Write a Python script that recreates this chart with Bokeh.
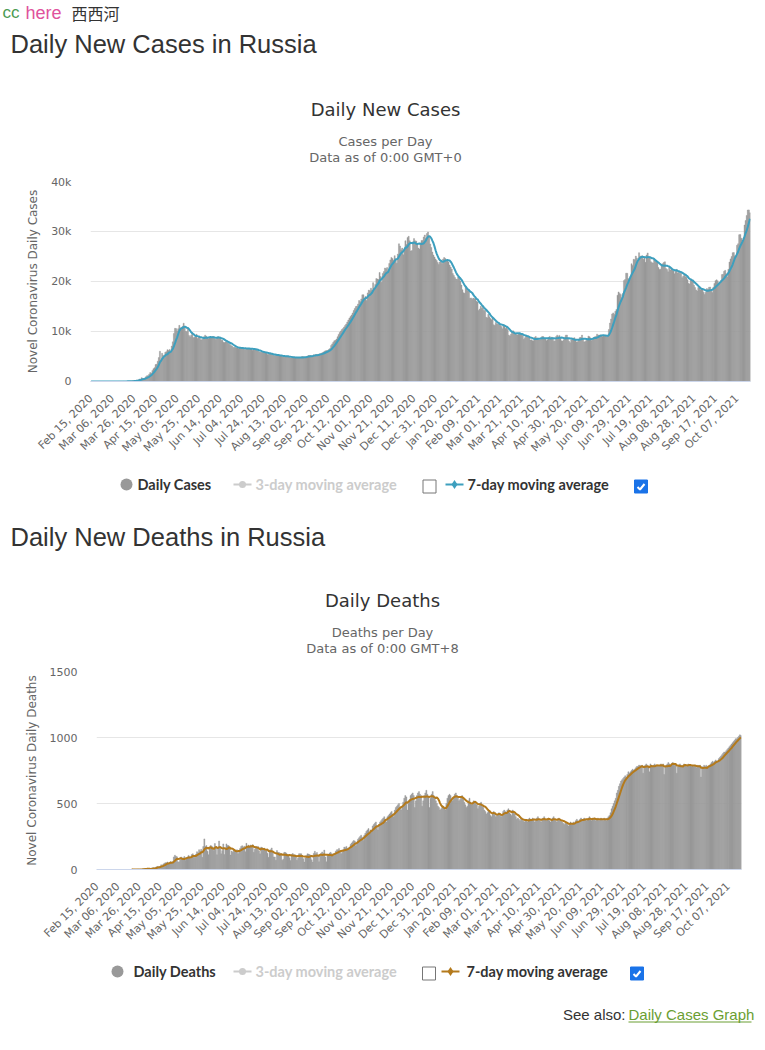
import math
import pandas as pd
from bokeh.plotting import figure
from bokeh.models import Range1d, FixedTicker, ColumnDataSource
from bokeh.core.properties import value
from bokeh.embed import file_html
from bokeh.resources import INLINE

# ---------------- data (daily values, Feb 15 2020 .. Oct 19 2021) ----------------
START_DATE = "2020-02-15"

cases_2020_02 = [0, 0, 0, 0, 0, 0, 0, 0, 0, 0, 0, 0, 0, 0, 0]
cases_2020_03 = [0, 1, 0, 0, 1, 6, 0, 3, 3, 3, 8, 6, 17, 14, 4, 30, 21, 33, 52, 54,
                 53, 61, 71, 57, 163, 182, 196, 228, 270, 302, 500]
cases_2020_04 = [440, 771, 601, 582, 658, 954, 1154, 1175, 1459, 1786, 1667, 2186, 2558, 2774, 3388,
                 3448, 4070, 4785, 6060, 4268, 5642, 5236, 4774, 5849, 5966, 6361, 6198, 6411, 5841, 7099]
cases_2020_05 = [7933, 9623, 10633, 10581, 10102, 10559, 11231, 10699, 10817, 11012, 11656, 10899, 10028,
                 9974, 10598, 9200, 8926, 9263, 9709, 8764, 8849, 8894, 9434, 8599, 8946, 8915, 8338, 8371,
                 8572, 8952, 9268]
cases_2020_06 = [9035, 8863, 8536, 8831, 8726, 8855, 8984, 8985, 8595, 8404, 8779, 8987, 8706, 8835, 8246,
                 8248, 7843, 7790, 7972, 7889, 7728, 7600, 7425, 7176, 7113, 6800, 6852, 6791, 6719, 6693]
cases_2020_07 = [6556, 6760, 6718, 6632, 6736, 6611, 6368, 6562, 6509, 6635, 6611, 6615, 6537, 6248, 6422,
                 6428, 6406, 6234, 6109, 5940, 5842, 5862, 5811, 5848, 5871, 5765, 5635, 5395, 5475, 5509, 5482]
cases_2020_08 = [5462, 5427, 5159, 5204, 5267, 5241, 5212, 5189, 5118, 5102, 4945, 5041, 5057, 5065, 5061,
                 4969, 4839, 4718, 4748, 4767, 4870, 4921, 4852, 4852, 4676, 4696, 4711, 4829, 4980, 4993, 4897]
cases_2020_09 = [4729, 4952, 5110, 5185, 5205, 5195, 5099, 5063, 5363, 5310, 5405, 5406, 5449, 5509, 5529,
                 5670, 5762, 5905, 6065, 6148, 6196, 6215, 6431, 6595, 7212, 7523, 7867, 8135, 8232, 8481]
cases_2020_10 = [8945, 9412, 9800, 10100, 10400, 10600, 10900, 11200, 11500, 11900, 12300, 12700, 13000,
                 13300, 13700, 14200, 14600, 15000, 15099, 15500, 16202, 15971, 16521, 17340, 17347, 16550,
                 17025, 16202, 17717, 18283, 18140]
cases_2020_11 = [18665, 18257, 19768, 18648, 19404, 20582, 20498, 20396, 21798, 20977, 19851, 21608, 21983,
                 22702, 22572, 22778, 21983, 23610, 24318, 24822, 24581, 24236, 25173, 24326, 23675, 25487,
                 27543, 27100, 26338, 26683]
cases_2020_12 = [25345, 26402, 28145, 27403, 28782, 29039, 28137, 26097, 26190, 27927, 28585, 28137, 28080,
                 27328, 26689, 26509, 27656, 28214, 28209, 28900, 29300, 28600, 29600, 29900, 28900, 27500,
                 26800, 25900, 25300, 24900, 24500]
cases_2021_01 = [24200, 23800, 23400, 23900, 24300, 23600, 24500, 24800, 24600, 24200, 24100, 23900, 23300,
                 22900, 22500, 21600, 21200, 20800, 20500, 20400, 20900, 20600, 20100, 19290, 18359, 17741,
                 17648, 19032, 18662, 18135, 18359]
cases_2021_02 = [16643, 16714, 16474, 16688, 16552, 16627, 16048, 15916, 14207, 14494, 15038, 14657, 15051,
                 14185, 14207, 12828, 12742, 13433, 12953, 12604, 12370, 12742, 11359, 11198, 11823, 11534,
                 11449, 11534]
cases_2021_03 = [11404, 11022, 10565, 11385, 11024, 10595, 10869, 10407, 9285, 9079, 9437, 9851, 10146, 9908,
                 9633, 9393, 9299, 9474, 9669, 9445, 9632, 9215, 8457, 8769, 9128, 9073, 9088, 8711, 8277,
                 8328, 8162]
cases_2021_04 = [8173, 8807, 9016, 8712, 8646, 8294, 8328, 8634, 9014, 8996, 8702, 8589, 8173, 8328, 8807,
                 9016, 8712, 8885, 8632, 8053, 8173, 8996, 9270, 8951, 9224, 8697, 8137, 8099, 8372, 8848]
cases_2021_05 = [9270, 9284, 8697, 8068, 7770, 8328, 8419, 8697, 8747, 8419, 7920, 7974, 8380, 8790, 8828,
                 9282, 8554, 7920, 8019, 8217, 8407, 9075, 8951, 8715, 8195, 8373, 8780, 8947, 9022, 9473, 9268]
cases_2021_06 = [9289, 9301, 9252, 9022, 9180, 9268, 9088, 8947, 9145, 10407, 11699, 12505, 13510, 13721,
                 13397, 14057, 14423, 17262, 17906, 17611, 17378, 16715, 17594, 20182, 20393, 21665, 21650,
                 20538, 20616, 21042]
cases_2021_07 = [23543, 23218, 24439, 24353, 25082, 24702, 23962, 25766, 25082, 25033, 25142, 24439, 24702,
                 23827, 25293, 25704, 25018, 24933, 23962, 23770, 23704, 24471, 24072, 23947, 23811, 22804,
                 22420, 22470, 23270, 23564, 23807]
cases_2021_08 = [23947, 22589, 22420, 21932, 22804, 22277, 22660, 22250, 22124, 21558, 22071, 22432, 21700,
                 22124, 21590, 21792, 20765, 21058, 21316, 20992, 20867, 20368, 19630, 19509, 20393, 20210,
                 20316, 19270, 18780, 18325, 18103]
cases_2021_09 = [18780, 18985, 18341, 18645, 18325, 17856, 17425, 17837, 18591, 18380, 18841, 18891, 18178,
                 17813, 18841, 19594, 20174, 20329, 20130, 19706, 19594, 20174, 21379, 21438, 22041, 22236,
                 21559, 20951, 22430, 23888]
cases_2021_10 = [24522, 25003, 25769, 25781, 25133, 25110, 27246, 27550, 29362, 29409, 28647, 28190, 28717,
                 31299, 32196, 33208, 34303, 34325, 33740]

N_ = None
deaths_2020_02 = [N_, N_, N_, N_, N_, N_, N_, N_, N_, N_, N_, N_, N_, N_, N_]
deaths_2020_03 = [N_, N_, N_, N_, N_, N_, N_, N_, N_, N_, N_, N_, N_, N_, N_, N_, N_, N_,
                  1, 0, 0, 0, 0, 0, 2, 0, 1, 3, 2, 4, 8]
deaths_2020_04 = [7, 2, 9, 2, 2, 2, 11, 13, 13, 12, 18, 22, 24, 18, 24, 36, 28, 41, 48, 51,
                  52, 57, 42, 50, 60, 47, 58, 95, 108, 101]
deaths_2020_05 = [96, 57, 58, 76, 95, 86, 88, 98, 70, 88, 94, 107, 96, 93, 113, 119, 94, 91, 115, 135,
                  127, 150, 139, 153, 92, 174, 232, 174, 181, 138, 112]
deaths_2020_06 = [162, 182, 178, 169, 144, 197, 171, 112, 171, 216, 174, 119, 143, 194, 113, 153, 194, 181,
                  181, 161, 109, 140, 130, 150, 145, 140, 150, 120, 140, 160]
deaths_2020_07 = [175, 180, 168, 176, 135, 198, 173, 185, 174, 186, 168, 188, 130, 154, 175, 161, 175, 141,
                  119, 170, 165, 150, 162, 141, 147, 123, 92, 147, 150, 163, 138]
deaths_2020_08 = [95, 95, 70, 144, 129, 129, 124, 119, 70, 77, 130, 129, 123, 113, 109, 89, 68, 114, 121,
                  112, 111, 100, 70, 86, 120, 119, 120, 100, 82, 56, 88]
deaths_2020_09 = [106, 119, 117, 113, 108, 73, 56, 122, 138, 120, 129, 107, 59, 102, 124, 133, 122, 147, 94,
                  58, 107, 110, 125, 130, 120, 115, 105, 120, 140, 150]
deaths_2020_10 = [150, 160, 140, 120, 130, 150, 170, 165, 175, 160, 150, 170, 190, 200, 210, 220, 215, 180,
                  200, 230, 240, 250, 260, 245, 220, 260, 275, 290, 300, 310, 280]
deaths_2020_11 = [300, 290, 330, 340, 350, 360, 330, 300, 340, 360, 370, 380, 390, 400, 380, 360, 400, 410,
                  420, 430, 440, 420, 400, 450, 470, 480, 490, 500, 470, 450]
deaths_2020_12 = [480, 510, 540, 560, 550, 450, 500, 530, 560, 570, 580, 560, 470, 520, 560, 580, 590, 570,
                  560, 480, 520, 560, 580, 600, 570, 550, 470, 540, 570, 590, 560]
deaths_2021_01 = [540, 520, 500, 480, 470, 450, 460, 470, 480, 460, 450, 500, 540, 560, 570, 560, 530, 520,
                  550, 570, 580, 560, 540, 520, 530, 550, 560, 540, 510, 490, 470]
deaths_2021_02 = [480, 520, 540, 510, 490, 500, 520, 510, 500, 490, 460, 480, 500, 510, 480, 470, 450, 440,
                  420, 430, 450, 440, 410, 400, 430, 440, 420, 400]
deaths_2021_03 = [410, 420, 430, 420, 400, 410, 440, 450, 440, 430, 450, 460, 430, 420, 410, 450, 440, 420,
                  400, 380, 390, 380, 370, 390, 380, 370, 360, 380, 370, 360, 380]
deaths_2021_04 = [390, 380, 370, 390, 380, 360, 370, 390, 400, 380, 370, 360, 380, 390, 400, 380, 370, 380,
                  390, 370, 360, 380, 390, 400, 380, 370, 360, 380, 390, 370]
deaths_2021_05 = [370, 360, 350, 340, 350, 360, 340, 330, 350, 360, 340, 350, 360, 350, 370, 380, 370, 360,
                  380, 390, 370, 380, 390, 380, 370, 380, 390, 400, 380, 370, 390]
deaths_2021_06 = [380, 390, 370, 380, 390, 370, 380, 390, 380, 370, 390, 380, 370, 390, 400, 410, 430, 460,
                  480, 500, 520, 540, 580, 600, 630, 650, 670, 680, 690, 700]
deaths_2021_07 = [710, 700, 720, 740, 730, 740, 750, 760, 750, 760, 770, 780, 780, 790, 790, 780, 790, 730,
                  780, 790, 800, 790, 780, 740, 800, 790, 780, 790, 800, 790, 780]
deaths_2021_08 = [790, 780, 790, 800, 790, 800, 720, 780, 790, 800, 810, 800, 790, 800, 810, 800, 790, 800,
                  730, 780, 790, 800, 790, 780, 790, 800, 790, 780, 790, 800, 790]
deaths_2021_09 = [790, 780, 790, 780, 790, 780, 770, 790, 780, 790, 700, 780, 770, 790, 780, 790, 770, 780,
                  790, 800, 810, 820, 810, 820, 830, 820, 820, 840, 850, 860]
deaths_2021_10 = [870, 880, 890, 890, 900, 910, 920, 930, 940, 950, 960, 970, 980, 990, 990, 1000, 1010,
                  1020, 1015]

case_months = [cases_2020_02, cases_2020_03, cases_2020_04, cases_2020_05, cases_2020_06, cases_2020_07,
               cases_2020_08, cases_2020_09, cases_2020_10, cases_2020_11, cases_2020_12, cases_2021_01,
               cases_2021_02, cases_2021_03, cases_2021_04, cases_2021_05, cases_2021_06, cases_2021_07,
               cases_2021_08, cases_2021_09, cases_2021_10]
death_months = [deaths_2020_02, deaths_2020_03, deaths_2020_04, deaths_2020_05, deaths_2020_06,
                deaths_2020_07, deaths_2020_08, deaths_2020_09, deaths_2020_10, deaths_2020_11,
                deaths_2020_12, deaths_2021_01, deaths_2021_02, deaths_2021_03, deaths_2021_04,
                deaths_2021_05, deaths_2021_06, deaths_2021_07, deaths_2021_08, deaths_2021_09,
                deaths_2021_10]
month_lengths = [15, 31, 30, 31, 30, 31, 31, 30, 31, 30, 31, 31, 28, 31, 30, 31, 30, 31, 31, 30, 19]
for i, (cm, dm, ml) in enumerate(zip(case_months, death_months, month_lengths)):
    assert len(cm) == ml, ("cases", i, len(cm), ml)
    assert len(dm) == ml, ("deaths", i, len(dm), ml)

cases = [v for m in case_months for v in m]
deaths = [float("nan") if v is None else v for m in death_months for v in m]
N = len(cases)
dates = pd.date_range(START_DATE, periods=N, freq="D")
day_index = list(range(N))
cases_ma7 = pd.Series(cases, dtype=float).rolling(7, min_periods=1).mean().tolist()
deaths_ma7 = pd.Series(deaths, dtype=float).rolling(7, min_periods=1).mean().tolist()

tick_days = list(range(0, N, 20))
tick_labels = {d: dates[d].strftime("%b %d, %Y") for d in tick_days}

# ---------------- styling ----------------
W = 757
BAR = "#999999"
TEAL = "#3d9fbe"
BROWN = "#b47a1c"
DARK = "#333333"
GREY_TXT = "#666666"
HC_FONT = "DejaVu Sans"


def canvas(h):
    p = figure(width=W, height=h, x_range=Range1d(0, W), y_range=Range1d(h, 0),
               output_backend="svg", toolbar_location=None, tools="",
               x_axis_location=None, y_axis_location=None, title_location=None,
               min_border=0, min_border_left=0, min_border_right=0,
               min_border_top=0, min_border_bottom=0)
    p.grid.visible = False
    p.outline_line_color = None
    return p


def txt(p, x, y, s, size, color=DARK, font=HC_FONT, align="left", style="normal"):
    # y is the vertical centre of the text line
    p.text(x=[x], y=[y], text=[s], text_font=value(font),
           text_font_size=value(f"{size}px"), text_color=color,
           text_align=align, text_baseline="middle", text_font_style=style)


def chart(h, left, right, top, bottom, ymax, yticks, ylabels, ylab, vals, ma, line_color):
    p = figure(width=W, height=h, x_range=Range1d(-0.5, N - 0.5), y_range=Range1d(0, ymax),
               output_backend="svg", toolbar_location=None, tools="", title_location=None,
               min_border_left=left, min_border_right=right,
               min_border_top=top, min_border_bottom=bottom)
    src = ColumnDataSource(dict(x=day_index, v=vals, ma=ma))
    p.vbar(x="x", top="v", width=1.0, source=src, fill_color=BAR, line_color=BAR, line_width=0.4)
    p.line(x="x", y="ma", source=src, line_color=line_color, line_width=2)
    p.outline_line_color = None
    p.xgrid.visible = False
    p.ygrid.grid_line_color = "#e6e6e6"
    p.yaxis.ticker = FixedTicker(ticks=yticks)
    p.yaxis.major_label_overrides = dict(zip(yticks, ylabels))
    p.yaxis.axis_line_color = None
    p.yaxis.major_tick_line_color = None
    p.yaxis.minor_tick_line_color = None
    p.yaxis.major_tick_out = 0
    p.yaxis.major_label_text_font = HC_FONT
    p.yaxis.major_label_text_font_size = "11px"
    p.yaxis.major_label_text_color = GREY_TXT
    p.yaxis.major_label_standoff = 19
    p.yaxis.axis_label = ylab
    p.yaxis.axis_label_text_font = HC_FONT
    p.yaxis.axis_label_text_font_size = "12px"
    p.yaxis.axis_label_text_font_style = "normal"
    p.yaxis.axis_label_text_color = GREY_TXT
    p.yaxis.axis_label_standoff = 8
    p.xaxis.ticker = FixedTicker(ticks=tick_days)
    p.xaxis.major_label_overrides = tick_labels
    p.xaxis.major_label_orientation = math.pi / 4
    p.xaxis.major_label_text_font = HC_FONT
    p.xaxis.major_label_text_font_size = "11px"
    p.xaxis.major_label_text_color = GREY_TXT
    p.xaxis.major_label_standoff = 9
    p.xaxis.major_tick_line_color = None
    p.xaxis.minor_tick_line_color = None
    p.xaxis.axis_line_color = "#ccd6eb"
    return p


def checkbox(p, cx, cy, checked):
    if checked:
        p.rect(x=[cx], y=[cy], width=13, height=13, fill_color="#1a73e8", line_color="#1a73e8")
        p.line(x=[cx - 3.5, cx - 1, cx + 3.5], y=[cy + 0.5, cy + 3, cy - 2.5],
               line_color="white", line_width=2)
    else:
        p.rect(x=[cx], y=[cy], width=13, height=13, fill_color="white",
               line_color="#767676", line_width=1)


def legend(p, cy, label0, xs, sym_color):
    c_x, t0_x, s3_x0, t3_x, cb1_x, s7_x0, t7_x, cb2_x = xs
    p.scatter(x=[c_x], y=[cy], size=12, marker="circle", fill_color=BAR, line_color=None)
    txt(p, t0_x, cy, label0, 14.5, DARK, "Lato", style="bold")
    p.line(x=[s3_x0, s3_x0 + 18], y=[cy, cy], line_color="#cccccc", line_width=2)
    p.scatter(x=[s3_x0 + 9], y=[cy], size=7, marker="circle", fill_color="#cccccc", line_color=None)
    txt(p, t3_x, cy, "3-day moving average", 14.5, "#cccccc", "Lato", style="bold")
    checkbox(p, cb1_x, cy + 2, False)
    p.line(x=[s7_x0, s7_x0 + 18], y=[cy, cy], line_color=sym_color, line_width=2)
    p.scatter(x=[s7_x0 + 9], y=[cy], size=9, marker="diamond", fill_color=sym_color, line_color=None)
    txt(p, t7_x, cy, "7-day moving average", 14.5, DARK, "Lato", style="bold")
    checkbox(p, cb2_x, cy + 2, True)


# ---------------- top header + chart 1 titles (page y 0..175) ----------------
a = canvas(175)
txt(a, 2, 12, "cc", 17, "#4a9a52", "Liberation Sans")
txt(a, 25, 12, "here", 18, "#e0529c", "Liberation Sans")
txt(a, 71, 12, "西西河", 16, DARK, "Noto Sans CJK SC")
txt(a, 10, 43, "Daily New Cases in Russia", 25.5, DARK, "Liberation Sans")
txt(a, 385, 108.5, "Daily New Cases", 18, DARK, align="center")
txt(a, 385, 140.5, "Cases per Day", 13, GREY_TXT, align="center")
txt(a, 385, 156.5, "Data as of 0:00 GMT+0", 13, GREY_TXT, align="center")

# chart 1 (page y 175..470), frame x 90..750, y 181..381
b = chart(295, 90, W - 750, 6, 89, 40000, [0, 10000, 20000, 30000, 40000],
          ["0", "10k", "20k", "30k", "40k"], "Novel Coronavirus Daily Cases",
          cases, cases_ma7, TEAL)

# legend 1 (page y 470..505)
c = canvas(35)
legend(c, 14, "Daily Cases", [126, 137, 233, 255, 429, 445, 467, 640.5], TEAL)

# ---------------- chart 2 header (page y 505..665) ----------------
d = canvas(160)
txt(d, 10, 31, "Daily New Deaths in Russia", 25.5, DARK, "Liberation Sans")
txt(d, 382, 95, "Daily Deaths", 18, DARK, align="center")
txt(d, 382, 127, "Deaths per Day", 13, GREY_TXT, align="center")
txt(d, 382, 143, "Data as of 0:00 GMT+8", 13, GREY_TXT, align="center")

# chart 2 (page y 665..958), frame x 96..741, y 671..869
e = chart(293, 96, W - 741, 6, 89, 1500, [0, 500, 1000, 1500],
          ["0", "500", "1000", "1500"], "Novel Coronavirus Daily Deaths",
          deaths, deaths_ma7, BROWN)

# legend 2 + footer (page y 958..1040)
f = canvas(82)
legend(f, 13, "Daily Deaths", [117, 133, 233, 255, 428.5, 441, 466, 636.5], BROWN)
txt(f, 625, 56, "See also:", 15, DARK, "Liberation Sans", align="right")
txt(f, 628, 56, "Daily Cases Graph", 15, "#6b9e32", "Liberation Sans")
f.line(x=[628, 751], y=[63.5, 63.5], line_color="#6b9e32", line_width=1)

# separate roots, stacked vertically (no frame alignment between them)
open("out.html", "w").write(file_html([a, b, c, d, e, f], INLINE))
